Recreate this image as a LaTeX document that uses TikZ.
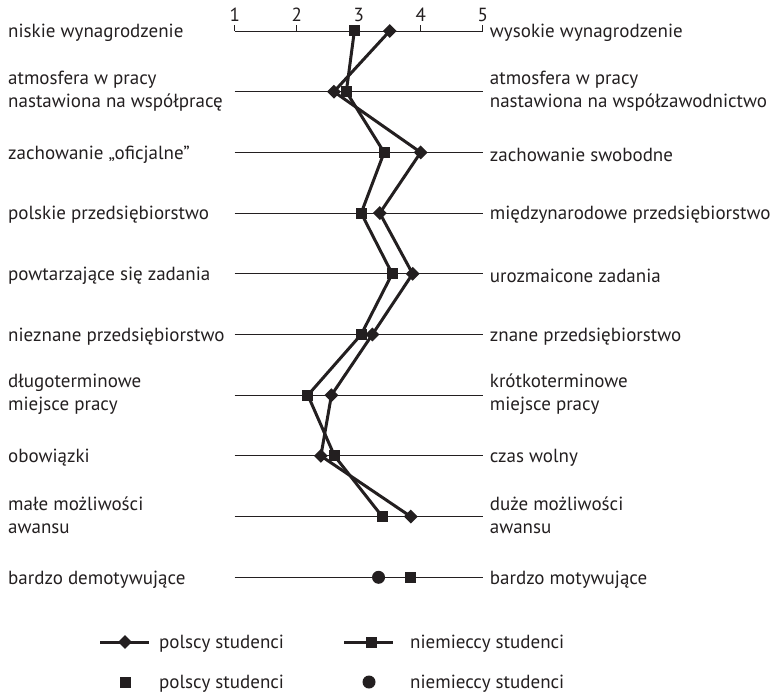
\documentclass[tikz,border=0pt]{standalone}
\usepackage{fontspec}
\setmainfont{PT Sans}
\usetikzlibrary{positioning,shapes.geometric}
\definecolor{chartInk}{HTML}{231F20}

\begin{document}
\begin{tikzpicture}[x=1bp,y=-1bp,
    font=\fontsize{19bp}{23bp}\selectfont,text=chartInk,
    rowline/.style={draw=chartInk,line width=0.9bp},
    series/.style={draw=chartInk,line width=3bp,line join=round},
    rowlabel/.style={anchor=west,align=left,inner sep=0pt},
    dmark/.style={diamond,fill=chartInk,inner sep=0pt,minimum size=14bp},
    smark/.style={rectangle,fill=chartInk,inner sep=0pt,minimum size=11bp},
    cmark/.style={circle,fill=chartInk,inner sep=0pt,minimum size=13bp}]
  \useasboundingbox (0,0) rectangle (773,693);

  % rows: left end, right end, labels
  \foreach \i/\lt/\rt/\sh in {
      1/{niskie wynagrodzenie}/{wysokie wynagrodzenie}/2,
      2/{atmosfera w pracy\\nastawiona na współpracę}/{atmosfera w pracy\\nastawiona na współzawodnictwo}/-1,
      3/{zachowanie „oficjalne”}/{zachowanie swobodne}/2,
      4/{polskie przedsiębiorstwo}/{międzynarodowe przedsiębiorstwo}/2,
      5/{powtarzające się zadania}/{urozmaicone zadania}/2,
      6/{nieznane przedsiębiorstwo}/{znane przedsiębiorstwo}/2,
      7/{długoterminowe\\miejsce pracy}/{krótkoterminowe\\miejsce pracy}/-1,
      8/{obowiązki}/{czas wolny}/2,
      9/{małe możliwości\\awansu}/{duże możliwości\\awansu}/-1,
      10/{bardzo demotywujące}/{bardzo motywujące}/2}{
    \coordinate (a\i) at (234.7,{31+(\i-1)*60.7});
    \coordinate (b\i) at (482.7,{31+(\i-1)*60.7});
    \draw[rowline] (a\i) -- (b\i);
    \node[rowlabel] (lt\i) at (8,{31+(\i-1)*60.7+\sh}) {\lt};
    \node[rowlabel,right=7bp of b\i,yshift=-\sh bp] (rt\i) {\rt};
  }

  % scale
  \foreach \t in {1,...,5}{
    \coordinate (tk\t) at ({234.7+(\t-1)*62},31);
    \draw[rowline] (tk\t) -- ++(0,-6);
    \node (num\t) at ({234.7+(\t-1)*62},15) {\t};
  }

  % polscy / niemieccy studenci
  \foreach \i/\v in {1/3.5,2/2.6,3/4.0,4/3.34,5/3.87,6/3.22,7/2.56,8/2.39,9/3.84}
    \coordinate (p\i) at ({234.7+(\v-1)*62},{31+(\i-1)*60.7});
  \foreach \i/\v in {1/2.93,2/2.8,3/3.41,4/3.04,5/3.54,6/3.04,7/2.18,8/2.61,9/3.38}
    \coordinate (n\i) at ({234.7+(\v-1)*62},{31+(\i-1)*60.7});
  \draw[series] (p1) \foreach \i in {2,...,9}{ -- (p\i)};
  \draw[series] (n1) \foreach \i in {2,...,9}{ -- (n\i)};
  \foreach \i in {1,...,9}{
    \node[dmark] at (p\i) {};
    \node[smark] at (n\i) {};
  }
  \node[smark] (p10) at ({234.7+2.83*62},577.3) {};
  \node[cmark] (n10) at ({234.7+2.32*62},577.3) {};

  % legend
  \coordinate (lgA1) at (100,642);
  \coordinate (lgA2) at (149,642);
  \coordinate (lgB1) at (344,642);
  \coordinate (lgB2) at (393,642);
  \draw[series] (lgA1) -- (lgA2);
  \draw[series] (lgB1) -- (lgB2);
  \node[dmark] (lgPd) at (125,642) {};
  \node[smark] (lgNs) at (371,642) {};
  \node[smark] (lgPs) at (125,682) {};
  \node[cmark] (lgNc) at (369,682) {};
  \node[rowlabel] (lgt1) at (159,644) {polscy studenci};
  \node[rowlabel] (lgt2) at (410,644) {niemieccy studenci};
  \node[rowlabel] (lgt3) at (159,684) {polscy studenci};
  \node[rowlabel] (lgt4) at (410,684) {niemieccy studenci};
\end{tikzpicture}
\end{document}
